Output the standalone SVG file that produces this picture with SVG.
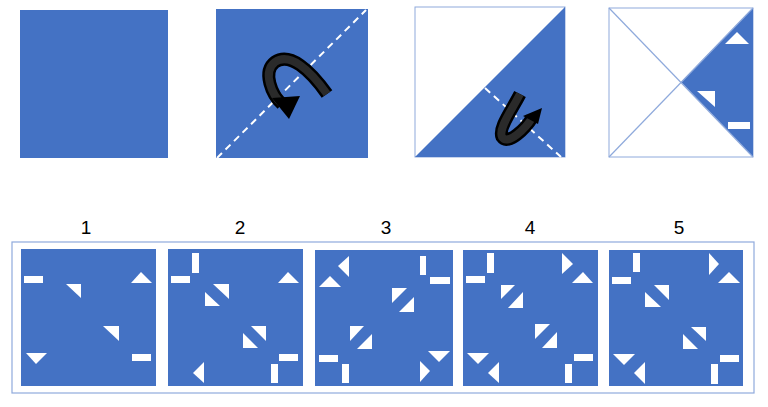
<svg xmlns="http://www.w3.org/2000/svg" width="768" height="407" viewBox="0 0 768 407">
<style>
.b{fill:#4472c4}
.w{fill:#fff}
.ln{stroke:#8faadc;fill:none;stroke-width:1.2}
.dash{stroke:#fff;stroke-width:2;stroke-dasharray:7,5;fill:none}
.arr{fill:none;stroke:#000;stroke-width:13}
.arri{fill:none;stroke:#2a2a2a;stroke-width:8}
.num{font-family:"Liberation Sans",Arial,sans-serif;font-size:19px;fill:#000;text-anchor:middle}
</style>
<rect width="768" height="407" fill="#fff"/>
<g id="top1"><rect class="b" x="20" y="10" width="148" height="148"/></g>
<g id="top2">
<rect class="b" x="216" y="9" width="152" height="149"/>
<line class="dash" x1="217" y1="158" x2="366" y2="10"/>
<path class="arr" d="M327,94 C310,70 290,52 275,62 C262,72 272,95 282,104"/>
<path class="arri" d="M327,94 C310,70 290,52 275,62 C262,72 272,95 282,104"/>
<polygon points="272,98 300,96 289,119" fill="#000"/>
</g>
<g id="top3">
<rect x="415" y="7" width="150" height="150" fill="#fff" stroke="#8faadc"/>
<polygon class="b" points="565,7 565,157 415,157"/>
<line class="dash" x1="485" y1="88" x2="561" y2="157"/>
<path class="arr" d="M520,94 C512,110 498,128 502,137 C508,146 526,128 532,118"/>
<path class="arri" d="M520,94 C512,110 498,128 502,137 C508,146 526,128 532,118"/>
<polygon points="523,116 538,124 542,108" fill="#000"/>
</g>
<g id="top4">
<rect x="609" y="8" width="144" height="149" fill="#fff" stroke="#8faadc"/>
<polygon class="b" points="753,8 753,157 681,82"/>
<line class="ln" x1="609" y1="8" x2="753" y2="157"/>
<line class="ln" x1="609" y1="157" x2="753" y2="8"/>
<polygon class="w" points="725,44 749,44 737,32"/>
<polygon class="w" points="697,91 715,91 715,107"/>
<rect class="w" x="728" y="122" width="22" height="7"/>
</g>
<g id="labels">
<text class="num" x="86" y="234">1</text>
<text class="num" x="240" y="234">2</text>
<text class="num" x="386" y="234">3</text>
<text class="num" x="530" y="234">4</text>
<text class="num" x="679" y="234">5</text>
</g>
<rect class="ln" x="12" y="242" width="742" height="151"/>
<g id="opt1" transform="translate(21,249)">
<rect class="b" width="135" height="137"/>
<rect class="w" x="3" y="27" width="19" height="7"/>
<polygon class="w" points="45,35 60,35 60,49"/>
<polygon class="w" points="110,34 131,34 120,23"/>
<polygon class="w" points="82,77 98,77 98,92"/>
<polygon class="w" points="5,104 26,104 15,115"/>
<rect class="w" x="111" y="105" width="19" height="7"/>
</g>
<g id="opt2" transform="translate(168,249)">
<rect class="b" width="135" height="137"/>
<rect class="w" x="24" y="4" width="7" height="20"/>
<rect class="w" x="3" y="27" width="19" height="7"/>
<polygon class="w" points="45,35 61,35 61,50"/>
<polygon class="w" points="37,43 37,57 52,57"/>
<polygon class="w" points="110,34 131,34 120,23"/>
<polygon class="w" points="83,77 98,77 98,92"/>
<polygon class="w" points="75,84 75,99 90,99"/>
<rect class="w" x="111" y="105" width="19" height="7"/>
<polygon class="w" points="36,113 36,134 25,124"/>
<rect class="w" x="103" y="115" width="7" height="19"/>
</g>
<g id="opt3" transform="translate(315,250)">
<rect class="b" width="138" height="136"/>
<polygon class="w" points="34,6 34,27 23,16"/>
<polygon class="w" points="4,37 26,37 15,26"/>
<rect class="w" x="105" y="6" width="6" height="19"/>
<rect class="w" x="115" y="27" width="20" height="7"/>
<polygon class="w" points="77,38 92,38 77,53"/>
<polygon class="w" points="99,47 99,62 84,62"/>
<polygon class="w" points="35,76 49,76 35,91"/>
<polygon class="w" points="57,84 57,99 42,99"/>
<rect class="w" x="4" y="105" width="19" height="7"/>
<rect class="w" x="27" y="114" width="7" height="19"/>
<polygon class="w" points="113,101 135,101 124,112"/>
<polygon class="w" points="105,111 105,132 115,121"/>
</g>
<g id="opt4" transform="translate(463,250)">
<rect class="b" width="135" height="136"/>
<rect class="w" x="24" y="3" width="7" height="20"/>
<rect class="w" x="3" y="26" width="19" height="7"/>
<polygon class="w" points="99,3 99,24 110,14"/>
<polygon class="w" points="109,33 130,33 120,22"/>
<polygon class="w" points="38,35 52,35 38,49"/>
<polygon class="w" points="60,42 60,58 45,58"/>
<polygon class="w" points="72,74 87,74 72,89"/>
<polygon class="w" points="94,82 94,98 79,98"/>
<rect class="w" x="111" y="104" width="19" height="7"/>
<rect class="w" x="102" y="114" width="7" height="19"/>
<polygon class="w" points="4,103 26,103 15,114"/>
<polygon class="w" points="36,112 36,133 25,123"/>
</g>
<g id="opt5" transform="translate(609,250)">
<rect class="b" width="134" height="136"/>
<rect class="w" x="24" y="3" width="7" height="19"/>
<rect class="w" x="3" y="27" width="19" height="7"/>
<polygon class="w" points="100,3 100,25 110,14"/>
<polygon class="w" points="109,33 131,33 120,22"/>
<polygon class="w" points="45,35 60,35 60,50"/>
<polygon class="w" points="36,42 36,57 52,57"/>
<polygon class="w" points="82,77 97,77 97,91"/>
<polygon class="w" points="74,84 74,99 89,99"/>
<rect class="w" x="111" y="105" width="19" height="7"/>
<rect class="w" x="102" y="114" width="7" height="20"/>
<polygon class="w" points="4,104 26,104 15,115"/>
<polygon class="w" points="36,112 36,134 25,123"/>
</g>
</svg>
